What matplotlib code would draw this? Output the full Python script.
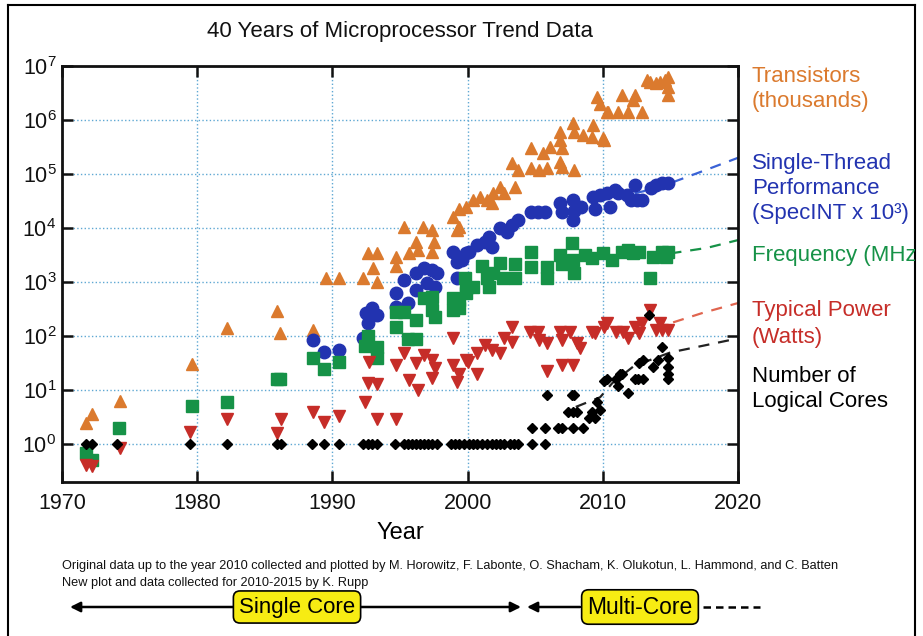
import matplotlib
matplotlib.use("Agg")
import matplotlib.pyplot as plt
from matplotlib.lines import Line2D
from matplotlib.transforms import Bbox, TransformedBbox

plt.rcParams['font.family'] = ['Liberation Sans', 'DejaVu Sans']
plt.rcParams['mathtext.default'] = 'regular'

# ---- data ----
tr_years = [1971.8, 1972.2, 1974.3, 1979.6, 1982.2, 1985.9, 1986.1, 1988.6, 1989.5, 1990.5,
            1992.3, 1992.6, 1993.3, 1993.0, 1993.3, 1994.7, 1994.7, 1995.3, 1995.7, 1996.2,
            1996.3, 1996.7, 1997.4, 1997.5, 1997.4, 1998.9, 1999.4, 1999.2, 1999.4, 1999.9,
            2000.4, 2000.9, 2001.4, 2001.8, 2001.9, 2002.4, 2002.7, 2003.5, 2003.3, 2003.7,
            2004.7, 2004.7, 2005.3, 2005.6, 2005.9, 2006.1, 2006.8, 2006.8, 2007.0, 2006.8,
            2007.0, 2007.8, 2007.9, 2007.9, 2008.5, 2009.2, 2009.3, 2009.6, 2009.8, 2010.1,
            2010.0, 2010.3, 2010.4, 2011.1, 2011.4, 2011.9, 2012.2, 2012.4, 2012.9, 2013.3,
            2013.5, 2013.9, 2014.2, 2014.6, 2014.8, 2014.8, 2014.8]
tr_vals = [2.5, 3.7, 6.3, 30, 140, 290, 115, 130, 1200, 1200,
           1200, 3400, 3400, 1800, 1000, 2900, 2000, 10500, 3400, 5500,
           3900, 10500, 9100, 5500, 3600, 16000, 23000, 9100, 10500, 24500,
           33000, 37000, 33000, 29000, 45000, 58000, 45000, 58000, 160000, 118000,
           300000, 130000, 118000, 245000, 130000, 320000, 430000, 600000, 300000, 165000,
           135000, 870000, 600000, 118000, 525000, 490000, 810000, 2700000, 2000000, 430000,
           470000, 1400000, 1400000, 1400000, 2900000, 1400000, 2300000, 2900000, 1400000, 5500000,
           5000000, 4900000, 5000000, 5500000, 6300000, 4100000, 2900000]

st_years = [1988.6, 1989.4, 1990.5, 1992.3, 1992.6, 1992.5, 1992.9, 1993.3, 1994.7, 1994.7,
            1995.3, 1995.6, 1996.2, 1996.2, 1996.8, 1997.0, 1997.4, 1997.7, 1997.6, 1998.9,
            1999.2, 1999.2, 1999.9, 1999.6, 2000.1, 2000.7, 2001.3, 2001.6, 2001.8, 2002.4,
            2002.9, 2003.3, 2003.7, 2004.7, 2005.2, 2005.7, 2006.8, 2007.0, 2007.8, 2007.9,
            2007.8, 2008.4, 2009.3, 2009.4, 2009.8, 2010.3, 2010.5, 2010.9, 2011.1, 2011.8,
            2012.1, 2012.4, 2012.5, 2012.9, 2013.6, 2013.9, 2014.4, 2014.8]
st_vals = [85, 50, 56, 91, 175, 270, 330, 245, 630, 350,
           1100, 410, 1500, 710, 1800, 950, 1650, 1500, 810, 3600,
           2350, 1170, 3500, 2600, 3600, 4900, 5500, 6800, 4500, 10000,
           8500, 11500, 14000, 20000, 20000, 20000, 29000, 20000, 33000, 21000,
           14000, 25000, 37000, 23000, 41000, 45000, 25000, 50000, 45000, 41000,
           33000, 63000, 33000, 33000, 55000, 63000, 68000, 68000]

fq_years = [1971.8, 1972.2, 1974.2, 1979.6, 1982.2, 1985.9, 1986.1, 1988.6, 1989.4, 1990.5,
            1992.4, 1992.6, 1993.3, 1993.3, 1994.7, 1994.7, 1995.3, 1995.6, 1996.2, 1996.2,
            1996.8, 1997.4, 1997.4, 1997.6, 1998.9, 1998.9, 1999.4, 1999.9, 1999.4, 1999.9,
            1999.8, 2000.4, 2001.1, 2001.4, 2001.6, 2001.9, 2002.4, 2002.6, 2003.5, 2003.5,
            2004.7, 2004.7, 2005.9, 2005.9, 2006.8, 2007.0, 2007.7, 2007.8, 2007.9, 2008.7,
            2009.2, 2010.0, 2010.7, 2011.4, 2011.9, 2012.2, 2012.7, 2013.5, 2013.7, 2014.4,
            2014.7, 2014.8]
fq_vals = [0.7, 0.52, 2.0, 5, 6, 16, 16, 40, 25, 33,
           66, 100, 63, 40, 280, 150, 280, 90, 90, 200,
           500, 520, 300, 225, 500, 300, 330, 780, 470, 630,
           1200, 800, 2000, 1200, 800, 1500, 2300, 1200, 2200, 1200,
           3600, 1900, 1900, 1200, 3200, 2200, 5200, 2600, 1500, 3200,
           2800, 3500, 2600, 3600, 3900, 3500, 3600, 1200, 2900, 3600,
           2900, 3600]

pw_years = [1971.8, 1972.2, 1974.3, 1979.5, 1982.2, 1985.9, 1986.2, 1988.6, 1989.4, 1990.5,
            1992.4, 1992.6, 1992.7, 1993.3, 1993.3, 1994.7, 1994.7, 1995.3, 1995.7, 1996.2,
            1996.3, 1996.8, 1997.4, 1997.4, 1997.6, 1998.9, 1998.9, 1999.2, 1999.4, 1999.9,
            2000.0, 2000.7, 2000.7, 2001.3, 2001.8, 2002.4, 2002.7, 2003.3, 2003.3, 2004.6,
            2005.2, 2005.3, 2005.9, 2005.9, 2006.8, 2007.0, 2007.0, 2007.8, 2007.6, 2008.1,
            2008.3, 2009.2, 2009.4, 2010.1, 2010.3, 2011.0, 2011.5, 2011.9, 2012.4, 2012.7,
            2012.9, 2013.5, 2013.9, 2014.2, 2014.4, 2014.8]
pw_vals = [0.41, 0.39, 0.87, 1.66, 2.9, 1.6, 2.9, 3.9, 2.6, 3.3,
           6, 13.5, 33, 13, 2.9, 2.9, 29, 49, 15.5, 32,
           10, 45, 36, 17, 26, 91, 29, 14, 20, 36,
           33, 49, 20, 68, 55, 49, 91, 150, 78, 117,
           117, 85, 23, 74, 117, 85, 29, 29, 117, 74,
           60, 117, 115, 150, 174, 117, 117, 91, 150, 115,
           174, 300, 130, 174, 130, 130]

cr_years = [1971.8, 1972.2, 1974.1, 1979.5, 1982.2, 1985.9, 1986.2, 1988.5, 1989.4, 1990.5,
            1992.3, 1992.6, 1992.9, 1993.3, 1994.6, 1995.3, 1995.6, 1995.9, 1996.2, 1996.5,
            1996.8, 1997.1, 1997.4, 1997.7, 1998.8, 1999.1, 1999.4, 1999.7, 2000.1, 2000.4,
            2000.7, 2001.1, 2001.4, 2001.8, 2002.1, 2002.4, 2002.7, 2003.1, 2003.4, 2003.7,
            2004.8, 2005.7,
            2004.8, 2005.7, 2006.7, 2007.0, 2007.8, 2008.5,
            2005.9, 2007.7, 2007.9, 2007.4, 2007.8, 2008.1, 2009.0, 2009.2, 2009.4, 2009.6,
            2009.8, 2010.1, 2010.3, 2011.0, 2011.1, 2011.3, 2011.4, 2011.9, 2012.4, 2012.6,
            2012.7, 2013.0, 2013.0, 2013.4, 2013.7, 2014.1, 2014.4, 2014.8, 2014.8, 2014.8,
            2014.8]
cr_vals = [1] * 42 + \
          [2, 2, 2, 2, 2, 2,
           8, 8, 8, 4, 4, 4, 3, 4, 3, 6,
           4.3, 15, 16, 16, 12, 20, 20, 8.7, 16, 16,
           32, 16, 36, 244, 27, 36, 64, 40, 27, 20,
           16]

# dashed trend curves
st_trend_x = [2008, 2010.5, 2013, 2015, 2017.5, 2020]
st_trend_y = [2.6e4, 3.5e4, 4.8e4, 6.8e4, 1.16e5, 2.0e5]
fq_trend_x = [2015, 2017.7, 2020]
fq_trend_y = [3400, 4300, 6000]
pw_trend_x = [2015.2, 2017.4, 2020]
pw_trend_y = [180, 270, 410]
cr_trend_x = [2008, 2009.8, 2010.7, 2012.3, 2015, 2017.6, 2020]
cr_trend_y = [4.9, 7.4, 13.5, 28, 50, 68, 91]

c_tr = '#DB7A2E'
c_st = '#2233B0'
c_fq = '#169247'
c_pw = '#C62D28'
c_cr = '#000000'
c_st_line = '#3A62D6'
c_pw_line = '#E0654F'

W, H = 923, 636
fig = plt.figure(figsize=(W / 100, H / 100), dpi=100)
ax = fig.add_axes([62 / W, 1 - 482 / H, (738 - 62) / W, (482 - 66) / H])

ax.set_yscale('log')
ax.set_xlim(1970, 2020)
ax.set_ylim(0.2, 1e7)

ax.plot(st_trend_x, st_trend_y, ls=(0, (5, 4)), color=c_st_line, lw=1.6, zorder=2)
ax.plot(fq_trend_x, fq_trend_y, ls=(0, (5, 4)), color=c_fq, lw=1.6, zorder=2)
ax.plot(pw_trend_x, pw_trend_y, ls=(0, (5, 4)), color=c_pw_line, lw=1.6, zorder=2)
ax.plot(cr_trend_x, cr_trend_y, ls=(0, (5, 4)), color='#222222', lw=1.6, zorder=2)

ax.plot(tr_years, tr_vals, ls='none', marker='^', ms=8, color=c_tr, zorder=3)
ax.plot(st_years, st_vals, ls='none', marker='o', ms=9, color=c_st, zorder=3)
ax.plot(fq_years, fq_vals, ls='none', marker='s', ms=8.5, color=c_fq, zorder=3)
ax.plot(pw_years, pw_vals, ls='none', marker='v', ms=8, color=c_pw, zorder=3)
ax.plot(cr_years, cr_vals, ls='none', marker='D', ms=5.5, color=c_cr, zorder=4)

ax.set_xticks([1970, 1980, 1990, 2000, 2010, 2020])
ax.set_yticks([1e0, 1e1, 1e2, 1e3, 1e4, 1e5, 1e6, 1e7])
ax.minorticks_off()
ax.grid(True, ls=':', color='#5FA8D3', lw=1.0)
ax.tick_params(direction='in', length=8, width=1.8, labelsize=15.5,
               top=True, right=True, pad=8, colors='#111111')
ax.tick_params(axis='y', pad=4)
for s in ax.spines.values():
    s.set_linewidth(2)
    s.set_color('#111111')

ax.set_xlabel('Year', fontsize=17, labelpad=6)
fig.text(400 / W, 1 - 32 / H, '40 Years of Microprocessor Trend Data',
         fontsize=16, ha='center', va='center', color='#111111')

# everything right of the outer frame is cut off
clip = TransformedBbox(Bbox([[0, 0], [915 / W, 1]]), fig.transFigure)


def lab(y, s, c):
    t = fig.text(752 / W, 1 - y / H, s, fontsize=16, color=c, ha='left', va='center')
    t.set_clip_box(clip)
    t.set_clip_on(True)


lab(77, 'Transistors', c_tr)
lab(102, '(thousands)', c_tr)
lab(164, 'Single-Thread', c_st)
lab(189, 'Performance', c_st)
lab(214, '(SpecINT x 10³)', c_st)
lab(256, 'Frequency (MHz)', c_fq)
lab(311, 'Typical Power', c_pw)
lab(337, '(Watts)', c_pw)
lab(376, 'Number of', c_cr)
lab(401, 'Logical Cores', c_cr)

fig.text(62 / W, 1 - 566 / H,
         'Original data up to the year 2010 collected and plotted by M. Horowitz, F. Labonte, '
         'O. Shacham, K. Olukotun, L. Hammond, and C. Batten',
         fontsize=9.2, ha='left', va='center', color='#111111')
fig.text(62 / W, 1 - 583 / H, 'New plot and data collected for 2010-2015 by K. Rupp',
         fontsize=9.2, ha='left', va='center', color='#111111')


def fx(x):
    return x / W


def fy(y):
    return 1 - y / H


# single / multi core arrows
ya = fy(607)
fig.add_artist(matplotlib.patches.FancyArrowPatch(
    (fx(70), ya), (fx(521), ya), transform=fig.transFigure,
    arrowstyle='<|-|>,head_length=6,head_width=3', color='black', lw=1.8,
    shrinkA=0, shrinkB=0))
fig.add_artist(matplotlib.patches.FancyArrowPatch(
    (fx(527), ya), (fx(580), ya), transform=fig.transFigure,
    arrowstyle='<|-,head_length=6,head_width=3', color='black', lw=1.8,
    shrinkA=0, shrinkB=0))
fig.add_artist(Line2D([fx(703), fx(760)], [ya, ya], transform=fig.transFigure,
                      color='black', lw=1.8, ls=(0, (3, 2))))
box = dict(boxstyle='round,pad=0.25,rounding_size=0.3', fc='#F7EC13', ec='black', lw=1.2)
fig.text(fx(297), ya, 'Single Core', fontsize=16, ha='center', va='center',
         bbox=box, zorder=5)
fig.text(fx(640), ya, 'Multi-Core', fontsize=16.5, ha='center', va='center',
         bbox=box, zorder=5)

# outer frame
for xs, ys in [([8, 8], [5, 640]), ([8, 915], [5, 5]), ([915, 915], [5, 640])]:
    fig.add_artist(Line2D([fx(v) for v in xs], [fy(v) for v in ys],
                          transform=fig.transFigure, color='black', lw=1.5))

fig.savefig('out.png', dpi=100)
